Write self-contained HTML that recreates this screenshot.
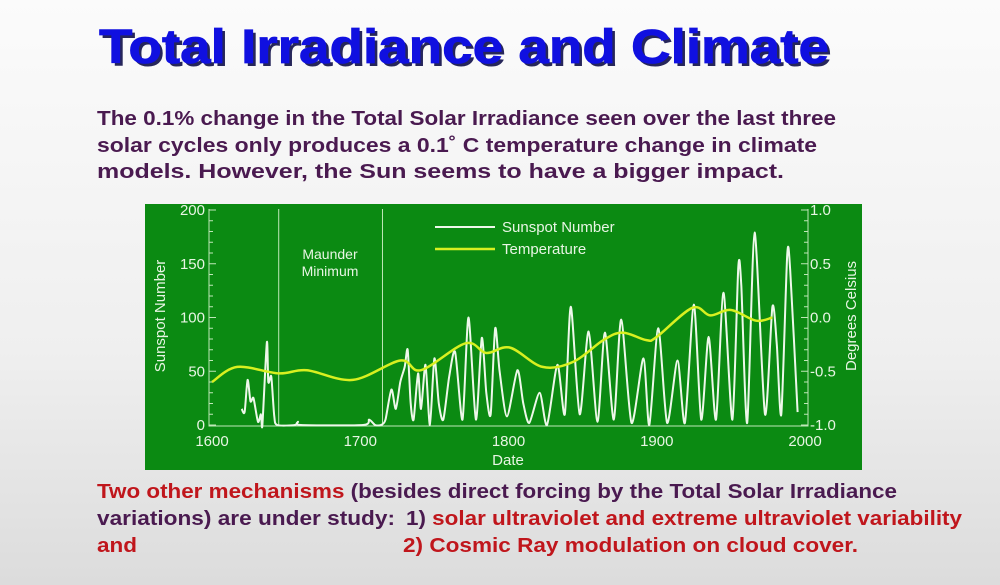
<!DOCTYPE html>
<html><head><meta charset="utf-8"><style>
html,body{margin:0;padding:0;width:1000px;height:585px;overflow:hidden}
svg{display:block;font-family:"Liberation Sans",Arial,sans-serif}
</style></head><body>
<svg id="s" width="1000" height="585" viewBox="0 0 1000 585">
<defs><linearGradient id="bg" x1="0" y1="0" x2="0" y2="1"><stop offset="0" stop-color="#fbfbfb"/><stop offset="0.6" stop-color="#efefef"/><stop offset="1" stop-color="#dcdcdc"/></linearGradient></defs>
<rect width="1000" height="585" fill="url(#bg)"/>
<text x="102" y="66" font-size="48" font-weight="bold" fill="#26265a" textLength="730" lengthAdjust="spacingAndGlyphs">Total Irradiance and Climate</text>
<text x="99" y="63" font-size="48" font-weight="bold" fill="#1010e0" stroke="#1010e0" stroke-width="0.8" textLength="730" lengthAdjust="spacingAndGlyphs">Total Irradiance and Climate</text>
<g font-size="20.5" font-weight="bold" fill="#4a1a50">
<text x="97" y="125" textLength="739" lengthAdjust="spacingAndGlyphs">The 0.1% change in the Total Solar Irradiance seen over the last three</text>
<text x="97" y="152" textLength="720" lengthAdjust="spacingAndGlyphs">solar cycles only produces a 0.1˚   C temperature change in climate</text>
<text x="97" y="178" textLength="687" lengthAdjust="spacingAndGlyphs">models. However, the Sun seems to have a bigger impact.</text>
</g>
<g font-size="20.5" font-weight="bold">
<text x="97" y="498" textLength="800" lengthAdjust="spacingAndGlyphs"><tspan fill="#c0161c">Two other mechanisms</tspan><tspan fill="#4a1a50"> (besides direct forcing by the Total Solar Irradiance</tspan></text>
<text x="97" y="525" fill="#4a1a50" textLength="298" lengthAdjust="spacingAndGlyphs">variations) are under study:</text>
<text x="406" y="525" textLength="556" lengthAdjust="spacingAndGlyphs"><tspan fill="#4a1a50">1) </tspan><tspan fill="#c0161c">solar ultraviolet and extreme ultraviolet variability</tspan></text>
<text x="97" y="552" fill="#c0161c" textLength="40" lengthAdjust="spacingAndGlyphs">and</text>
<text x="403" y="552" fill="#c0161c" textLength="455" lengthAdjust="spacingAndGlyphs">2) Cosmic Ray modulation on cloud cover.</text>
</g>
<rect x="145" y="204" width="717" height="266" fill="#0b8a12"/>
<g id="chart"></g>
</svg>
<script>
// Sunspot series (year, value)
const ssYears=[1620,1622,1624,1626,1628,1631,1633,1634,1637,1638,1640,1642,1644,1656,1658,1660,1702,1706,1710,1714,1717,1721,1724,1727,1730,1732,1734,1736,1739,1741,1744,1747,1750,1753,1756,1760,1764,1769,1773,1778,1782,1785,1788,1791,1794,1799,1806,1810,1814,1821,1826,1833,1838,1842,1848,1854,1860,1865,1871,1876,1883,1891,1895,1901,1907,1914,1919,1925,1930,1935,1940,1945,1951,1955,1957,1961,1966,1973,1978,1981,1984,1988,1990,1995];
const ssValues=[15,12,42,22,25,3,10,0,77,40,45,8,0,0,3,0,0,5,0,0,5,33,15,40,54,70,20,5,48,15,56,0,62,20,5,45,68,5,100,5,81,30,10,90,50,8,51,20,2,30,0,56,10,110,10,87,3,86,5,98,2,62,0,90,2,60,2,112,5,82,5,123,5,147,130,2,179,10,110,75,10,158,144,12];
// Temperature anomaly (°C)
const tYears=[1600,1617,1645,1664,1695,1727,1741,1771,1785,1801,1823,1844,1864,1877,1893,1900,1924,1936,1950,1967,1978];
const tValues=[-0.60,-0.46,-0.52,-0.49,-0.58,-0.40,-0.49,-0.24,-0.33,-0.28,-0.46,-0.41,-0.21,-0.14,-0.21,-0.18,0.09,0.02,0.07,-0.03,0.0];
const xTicks=[1600,1700,1800,1900,2000];
const yTicks=[0,50,100,150,200];
const y2Ticks=["1.0","0.5","0.0","-0.5","-1.0"];
const markerYears=[1645,1715];
</script>
<script>
(function(){
const NS="http://www.w3.org/2000/svg";
const g=document.getElementById('chart');
const X=y=>212+(y-1600)*1.4825;
const Y=v=>425-v*1.075;
const T=t=>425-(t+1)*107.5;
function el(tag,attrs,text){const e=document.createElementNS(NS,tag);for(const k in attrs)e.setAttribute(k,attrs[k]);if(text!=null)e.textContent=text;g.appendChild(e);return e;}
function smooth(pts,k){let d="M"+pts[0][0].toFixed(1)+" "+pts[0][1].toFixed(1);
for(let i=0;i<pts.length-1;i++){const p0=pts[Math.max(0,i-1)],p1=pts[i],p2=pts[i+1],p3=pts[Math.min(pts.length-1,i+2)];
d+=` C${(p1[0]+(p2[0]-p0[0])/k).toFixed(1)} ${(p1[1]+(p2[1]-p0[1])/k).toFixed(1)} ${(p2[0]-(p3[0]-p1[0])/k).toFixed(1)} ${(p2[1]-(p3[1]-p1[1])/k).toFixed(1)} ${p2[0].toFixed(1)} ${p2[1].toFixed(1)}`;}
return d;}
const c="#bfe8b8";
let a=el('path',{d:"M209 209 V426 H808 V209",fill:"none",stroke:c,"stroke-width":1});


for(let v=0;v<=200;v+=10){let t=el('line',{x1:209,x2:v%50?213:216,y1:Y(v),y2:Y(v),stroke:c});


let t2=el('line',{x1:808,x2:v%50?804:801,y1:Y(v),y2:Y(v),stroke:c});

}
markerYears.forEach(yr=>{let l=el('line',{x1:X(yr),x2:X(yr),y1:209,y2:426,stroke:c,"stroke-width":1});

});
let m=el('text',{x:330,y:259,"font-size":14,fill:"#e8f5e4","text-anchor":"middle"},"Maunder");


let m2=el('text',{x:330,y:276,"font-size":14,fill:"#e8f5e4","text-anchor":"middle"},"Minimum");


xTicks.forEach(v=>{let t=el('text',{x:X(v),y:446,"font-size":15,fill:"#e8f5e4","text-anchor":"middle"},String(v));

});
yTicks.forEach(v=>{let t=el('text',{x:205,y:Y(v)+5,"font-size":15,fill:"#e8f5e4","text-anchor":"end"},String(v));

});
y2Ticks.forEach(s=>{let t=el('text',{x:810,y:T(parseFloat(s))+5,"font-size":15,fill:"#e8f5e4"},s);

});
let xt=el('text',{x:508,y:465,"font-size":15,fill:"#e8f5e4","text-anchor":"middle"},"Date");


let yt=el('text',{x:0,y:0,"font-size":15,fill:"#e8f5e4","text-anchor":"middle",transform:"translate(165,316) rotate(-90)"},"Sunspot Number");


let yt2=el('text',{x:0,y:0,"font-size":15,fill:"#e8f5e4","text-anchor":"middle",transform:"translate(856,316) rotate(-90)"},"Degrees Celsius");


const sPts=ssYears.map((yr,i)=>[X(yr),Math.min(425,Y(ssValues[i]))]);
let sp=el('path',{d:smooth(sPts,8),fill:"none",stroke:"#eef8ea","stroke-width":2,"stroke-linejoin":"round"});


const pts=tYears.map((yr,i)=>[X(yr),T(tValues[i])]);
let tp=el('path',{d:smooth(pts,6),fill:"none",stroke:"#d8f020","stroke-width":2.5});


let l1=el('line',{x1:435,x2:495,y1:227,y2:227,stroke:"#eef8ea","stroke-width":2});


let l1t=el('text',{x:502,y:232,"font-size":15,fill:"#e8f5e4"},"Sunspot Number");


let l2=el('line',{x1:435,x2:495,y1:249,y2:249,stroke:"#d8f020","stroke-width":2.5});


let l2t=el('text',{x:502,y:254,"font-size":15,fill:"#e8f5e4"},"Temperature");


})();
</script>
</body></html>
